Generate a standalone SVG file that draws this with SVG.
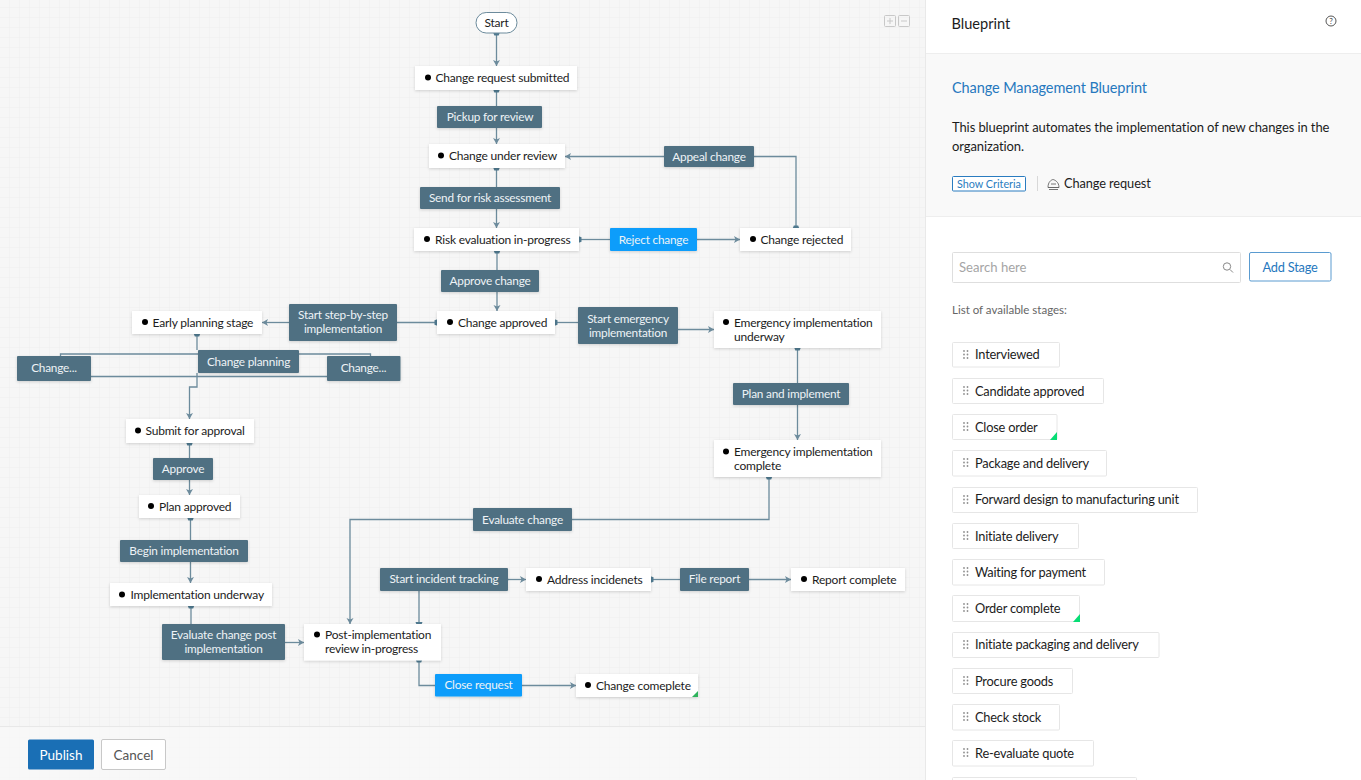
<svg xmlns="http://www.w3.org/2000/svg" width="1361" height="780" viewBox="0 0 1361 780">
<style>
text{font-family:Lato,"Open Sans","Liberation Sans",sans-serif;font-size:12px;letter-spacing:-.2px;fill:#1c1c1c}
.st{fill:#fff;filter:url(#sh)}
.tr{fill:#507082;filter:url(#sh)}
.bl{fill:#0a9dfb;filter:url(#sh)}
text.tw{fill:#eef3f6;font-size:11.8px;letter-spacing:-.2px;text-anchor:middle}
.c{fill:none;stroke:#6c8b9c;stroke-width:1.3;marker-end:url(#arr)}
.cs{marker-start:url(#src)}
.n{fill:none;stroke:#6c8b9c;stroke-width:1.3}
.g{fill:#07dd75}
.li{fill:#fff;stroke:#e6e6e6}
text.lt{font-size:12.8px;letter-spacing:-.2px}
.dots{fill:#8f8f8f}
</style>
<defs>
<pattern id="grid" width="10" height="10" patternUnits="userSpaceOnUse" x="-1" y="-3"><rect width="10" height="10" fill="#f6f6f6"/><path d="M10 0H0V10" fill="none" stroke="#eeeeee" stroke-width="1"/></pattern>
<filter id="sh" x="-10%" y="-20%" width="120%" height="150%"><feDropShadow dx="0" dy="1" stdDeviation="1.5" flood-color="#000" flood-opacity=".16"/></filter>
<marker id="arr" markerUnits="userSpaceOnUse" markerWidth="8" markerHeight="8" refX="6" refY="4" orient="auto"><path d="M0 .5L6 4L0 7.5L1.5 4Z" fill="#6c8b9c"/></marker>
<marker id="src" markerUnits="userSpaceOnUse" markerWidth="8" markerHeight="10" refX="2" refY="5" orient="auto"><path d="M1 1.500L4.500 2.800V7.200L1 8.500Z" fill="#507a90"/></marker>
<g id="dr"><circle cx="0" cy="0" r=".9"/><circle cx="3.500" cy="0" r=".9"/><circle cx="0" cy="3.500" r=".9"/><circle cx="3.500" cy="3.500" r=".9"/><circle cx="0" cy="7" r=".9"/><circle cx="3.500" cy="7" r=".9"/></g>
</defs>
<rect width="925" height="780" fill="url(#grid)"/>
<rect y="727" width="925" height="53" fill="#f8f8f8" fill-opacity=".75"/>
<path d="M0 726.500H925" stroke="#e8e8e8"/>

<g id="connectors">
<path class="c cs" d="M496.500 33V66"/>
<path class="n cs" d="M496.500 90V106"/>
<path class="c" d="M496.500 128V144"/>
<path class="n cs" d="M496.500 168V187"/>
<path class="c" d="M496.500 209V228"/>
<path class="n cs" d="M497 251V270"/>
<path class="c" d="M497 292V311"/>
<path class="c" d="M664 156.500H565"/>
<path class="n cs" d="M796 228V156.500H754"/>
<path class="n cs" d="M579 239.500H610"/>
<path class="c" d="M697 239.500H740"/>
<path class="n cs" d="M437 322.500H397"/>
<path class="c" d="M289 322.500H262"/>
<path class="n cs" d="M555 322.500H578"/>
<path class="c" d="M678 329.500H714"/>
<path class="n cs" d="M797.500 348V383"/>
<path class="c" d="M797.500 405V440"/>
<path class="n cs" d="M197 334V350"/>
<path class="n" d="M60.500 356V354H198M299 354H370.500V356"/>
<path class="n" d="M91 376.500H327"/>
<path class="c" d="M197 373V387H189.500V419"/>
<path class="n cs" d="M189.500 443V458"/>
<path class="c" d="M189.500 480V495"/>
<path class="n cs" d="M190.500 518V540"/>
<path class="c" d="M190.500 562V583"/>
<path class="n cs" d="M191 606V624"/>
<path class="c" d="M285 642.500H304"/>
<path class="n cs" d="M769 477V519.500H572"/>
<path class="c" d="M473 519.500H350V624"/>
<path class="n" style="marker-end:url(#src)" d="M419 591V623"/>
<path class="c" d="M508 579.500H526"/>
<path class="n cs" d="M651 579.500H680"/>
<path class="c" d="M749 579.500H791"/>
<path class="n cs" d="M419 660V685.500H435"/>
<path class="c" d="M522 685.500H576"/>
</g>

<g id="start"><rect x="476" y="12.500" width="41" height="20.500" rx="10.200" fill="#fff" stroke="#6c8b9c"/><text x="496.500" y="26.500" text-anchor="middle">Start</text></g>
<g id="s1"><rect class="st" x="415" y="66" width="162" height="24"/><circle cx="428" cy="77.500" r="3"/><text x="435.500" y="82">Change request submitted</text></g>
<g id="t1"><rect class="tr" x="437" y="106" width="105" height="22" rx="1"/><text class="tw" x="490" y="121">Pickup for review</text></g>
<g id="s2"><rect class="st" x="429" y="144" width="136" height="24"/><circle cx="441" cy="155.500" r="3"/><text x="449" y="160">Change under review</text></g>
<g id="t2"><rect class="tr" x="664" y="146" width="90" height="21" rx="1"/><text class="tw" x="709" y="160.500">Appeal change</text></g>
<g id="t3"><rect class="tr" x="420" y="187" width="140" height="22" rx="1"/><text class="tw" x="490" y="202">Send for risk assessment</text></g>
<g id="s3"><rect class="st" x="414" y="228" width="165" height="23"/><circle cx="427" cy="239" r="3"/><text x="435" y="243.500">Risk evaluation in-progress</text></g>
<g id="t4"><rect class="bl" x="610" y="228" width="87" height="23" rx="1"/><text class="tw" x="653.500" y="243.500">Reject change</text></g>
<g id="s4"><rect class="st" x="740" y="228" width="111" height="23"/><circle cx="753" cy="239" r="3"/><text x="760.500" y="243.500">Change rejected</text></g>
<g id="t5"><rect class="tr" x="441" y="270" width="98" height="22" rx="1"/><text class="tw" x="490" y="285">Approve change</text></g>
<g id="s5"><rect class="st" x="437" y="311" width="118" height="23"/><circle cx="450" cy="322" r="3"/><text x="458" y="326.500">Change approved</text></g>
<g id="t6"><rect class="tr" x="289" y="304" width="108" height="37" rx="1"/><text class="tw" x="343" y="319">Start step-by-step</text><text class="tw" x="343" y="333">implementation</text></g>
<g id="s6"><rect class="st" x="132" y="311" width="130" height="23"/><circle cx="145" cy="322" r="3"/><text x="152.500" y="326.500">Early planning stage</text></g>
<g id="t7"><rect class="tr" x="578" y="307" width="100" height="37" rx="1"/><text class="tw" x="628" y="323">Start emergency</text><text class="tw" x="628" y="337">implementation</text></g>
<g id="s7"><rect class="st" x="714" y="311" width="167" height="37"/><circle cx="726" cy="322" r="3"/><text x="734" y="326.500">Emergency implementation</text><text x="734" y="340.500">underway</text></g>
<g id="t8"><rect class="tr" x="198" y="350" width="101" height="23" rx="1"/><text class="tw" x="248.500" y="366">Change planning</text></g>
<g id="t9"><rect class="tr" x="17" y="356" width="74" height="25" rx="1"/><text class="tw" x="54" y="372">Change...</text></g>
<g id="t10"><rect class="tr" x="327" y="356" width="73.500" height="25" rx="1"/><text class="tw" x="363.500" y="372">Change...</text></g>
<g id="s8"><rect class="st" x="126" y="419" width="128" height="24"/><circle cx="138" cy="430.500" r="3"/><text x="145.500" y="435">Submit for approval</text></g>
<g id="t11"><rect class="tr" x="153" y="458" width="60" height="22" rx="1"/><text class="tw" x="183" y="473">Approve</text></g>
<g id="s9"><rect class="st" x="139" y="495" width="101" height="23"/><circle cx="151" cy="506" r="3"/><text x="159" y="510.500">Plan approved</text></g>
<g id="t12"><rect class="tr" x="120" y="540" width="128" height="22" rx="1"/><text class="tw" x="184" y="555">Begin implementation</text></g>
<g id="s10"><rect class="st" x="110" y="583" width="162" height="23"/><circle cx="122" cy="594.500" r="3"/><text x="130.500" y="598.500">Implementation underway</text></g>
<g id="t13"><rect class="tr" x="162" y="624" width="123" height="36" rx="1"/><text class="tw" x="223.500" y="639">Evaluate change post</text><text class="tw" x="223.500" y="653">implementation</text></g>
<g id="s11"><rect class="st" x="304" y="624" width="137" height="36.500"/><circle cx="317" cy="634.500" r="3"/><text x="325" y="639">Post-implementation</text><text x="325" y="653">review in-progress</text></g>
<g id="t14"><rect class="tr" x="733" y="383" width="116" height="22" rx="1"/><text class="tw" x="791" y="398">Plan and implement</text></g>
<g id="s12"><rect class="st" x="714" y="440" width="167" height="37"/><circle cx="726" cy="451.500" r="3"/><text x="734" y="456">Emergency implementation</text><text x="734" y="470">complete</text></g>
<g id="t15"><rect class="tr" x="473" y="508" width="99" height="23" rx="1"/><text class="tw" x="522.500" y="524">Evaluate change</text></g>
<g id="t16"><rect class="tr" x="380" y="568" width="128" height="23" rx="1"/><text class="tw" x="444" y="583">Start incident tracking</text></g>
<g id="s13"><rect class="st" x="526" y="568" width="125" height="23"/><circle cx="539" cy="579" r="3"/><text x="547" y="583.500">Address incidenets</text></g>
<g id="t17"><rect class="tr" x="680" y="568" width="69" height="23" rx="1"/><text class="tw" x="714.500" y="583">File report</text></g>
<g id="s14"><rect class="st" x="791" y="568" width="114" height="23"/><circle cx="804" cy="579" r="3"/><text x="812" y="583.500">Report complete</text></g>
<g id="t18"><rect class="bl" x="435" y="674" width="87" height="22.500" rx="1"/><text class="tw" x="478.500" y="689">Close request</text></g>
<g id="s15"><rect class="st" x="576" y="674" width="122" height="23"/><circle cx="588" cy="685" r="3"/><text x="596" y="689.500">Change comeplete</text><path d="M698 691V697H692Z" fill="#2fb35c"/></g>

<g id="zoom" fill="none" stroke="#c8c8c8"><rect x="884.500" y="15.500" width="11" height="11" rx="1"/><rect x="898.500" y="15.500" width="11" height="11" rx="1"/><path d="M887 21H893M890 18V24M901 21H907"/></g>

<g id="publish"><rect x="28" y="739.500" width="66" height="30" rx="1.500" fill="#1a6fb5"/><text x="61" y="759.500" text-anchor="middle" style="font-size:13.500px;letter-spacing:0;fill:#fff">Publish</text></g>
<g id="cancel"><rect x="101.500" y="739.500" width="64" height="30" rx="1.500" fill="#fff" stroke="#c8c8c8"/><text x="133.500" y="759.500" text-anchor="middle" style="font-size:13.500px;letter-spacing:0;fill:#555">Cancel</text></g>

<g id="panel">
<rect x="925" width="436" height="780" fill="#fff"/>
<path d="M925.500 0V780" stroke="#e9e9e9"/>
<rect x="926" y="53" width="435" height="164" fill="#f9f9f9"/>
<path d="M926 53.500H1361M926 216.500H1361" stroke="#eeeeee"/>
<text x="951.500" y="29" style="font-size:14.600px;letter-spacing:0">Blueprint</text>
<circle cx="1331" cy="21" r="5" fill="none" stroke="#555"/><text x="1331" y="24" text-anchor="middle" style="font-size:8px;letter-spacing:0;fill:#444">?</text>
<text x="952" y="93" style="font-size:14.500px;letter-spacing:-.1px;fill:#2678be">Change Management Blueprint</text>
<text x="952" y="132" style="font-size:13px;letter-spacing:-.1px">This blueprint automates the implementation of new changes in the</text>
<text x="952" y="150.500" style="font-size:13px;letter-spacing:-.1px">organization.</text>
<rect x="952.500" y="176.500" width="73" height="14.500" rx="1" fill="#fff" stroke="#2a7cc0"/>
<text x="989" y="187.500" text-anchor="middle" style="font-size:10.800px;letter-spacing:0;fill:#2a7cc0">Show Criteria</text>
<path d="M1037.500 176V191" stroke="#d8d8d8"/>
<g fill="none" stroke="#666" stroke-width=".9"><path d="M1048 187.500C1048 182 1051 180 1053 179.500C1055 180 1059 182 1059 187.500Z"/><path d="M1048 187.500H1059M1049 189.500H1058M1051 184H1056"/></g>
<text x="1064" y="187.500" style="font-size:12.800px;letter-spacing:-.1px">Change request</text>

<g id="search"><rect x="952.500" y="252.500" width="288" height="30" rx="1" fill="#fff" stroke="#dedede"/><text x="959" y="272" style="font-size:13.100px;letter-spacing:0;fill:#a5a5a5">Search here</text><circle cx="1227" cy="266.500" r="3.700" fill="none" stroke="#888"/><path d="M1230 269.500L1233 272.500" stroke="#888"/></g>
<g id="addstage"><rect x="1249.500" y="252.500" width="81.500" height="28.500" rx="1.500" fill="#fff" stroke="#5a9bd0"/><text x="1290" y="272" text-anchor="middle" style="font-size:12.800px;fill:#2678be">Add Stage</text></g>
<text x="952" y="314" style="font-size:11.500px;letter-spacing:0;fill:#666">List of available stages:</text>

<g id="li1"><rect class="li" x="952.500" y="342.500" width="107" height="24.500" rx="1"/><use href="#dr" class="dots" x="964" y="351"/><text class="lt" x="975" y="359">Interviewed</text></g>
<g id="li2"><rect class="li" x="952.500" y="378.500" width="151" height="25" rx="1"/><use href="#dr" class="dots" x="964" y="387"/><text class="lt" x="975" y="395.500">Candidate approved</text></g>
<g id="li3"><rect class="li" x="952.500" y="414.500" width="104.500" height="25" rx="1"/><use href="#dr" class="dots" x="964" y="423"/><text class="lt" x="975" y="431.500">Close order</text><path class="g" d="M1057 432V440H1050Z"/></g>
<g id="li4"><rect class="li" x="952.500" y="450.500" width="154" height="25.500" rx="1"/><use href="#dr" class="dots" x="964" y="459"/><text class="lt" x="975" y="467.500">Package and delivery</text></g>
<g id="li5"><rect class="li" x="952.500" y="487.500" width="245" height="25" rx="1"/><use href="#dr" class="dots" x="964" y="496"/><text class="lt" x="975" y="504">Forward design to manufacturing unit</text></g>
<g id="li6"><rect class="li" x="952.500" y="523.500" width="126" height="25" rx="1"/><use href="#dr" class="dots" x="964" y="532"/><text class="lt" x="975" y="540.500">Initiate delivery</text></g>
<g id="li7"><rect class="li" x="952.500" y="559.500" width="152" height="25.500" rx="1"/><use href="#dr" class="dots" x="964" y="568"/><text class="lt" x="975" y="576.500">Waiting for payment</text></g>
<g id="li8"><rect class="li" x="952.500" y="595.500" width="127" height="26" rx="1"/><use href="#dr" class="dots" x="964" y="604"/><text class="lt" x="975" y="612.500">Order complete</text><path class="g" d="M1080 614V622H1073Z"/></g>
<g id="li9"><rect class="li" x="952.500" y="632.500" width="206.500" height="25" rx="1"/><use href="#dr" class="dots" x="964" y="641"/><text class="lt" x="975" y="649">Initiate packaging and delivery</text></g>
<g id="li10"><rect class="li" x="952.500" y="668.500" width="120" height="25" rx="1"/><use href="#dr" class="dots" x="964" y="677"/><text class="lt" x="975" y="685.500">Procure goods</text></g>
<g id="li11"><rect class="li" x="952.500" y="704.500" width="107" height="25.500" rx="1"/><use href="#dr" class="dots" x="964" y="713"/><text class="lt" x="975" y="722">Check stock</text></g>
<g id="li12"><rect class="li" x="952.500" y="740.500" width="141" height="25.500" rx="1"/><use href="#dr" class="dots" x="964" y="749"/><text class="lt" x="975" y="757.500">Re-evaluate quote</text></g>
<g id="li13"><rect class="li" x="952.500" y="777.500" width="184" height="25" rx="1"/></g>
</g>
</svg>
